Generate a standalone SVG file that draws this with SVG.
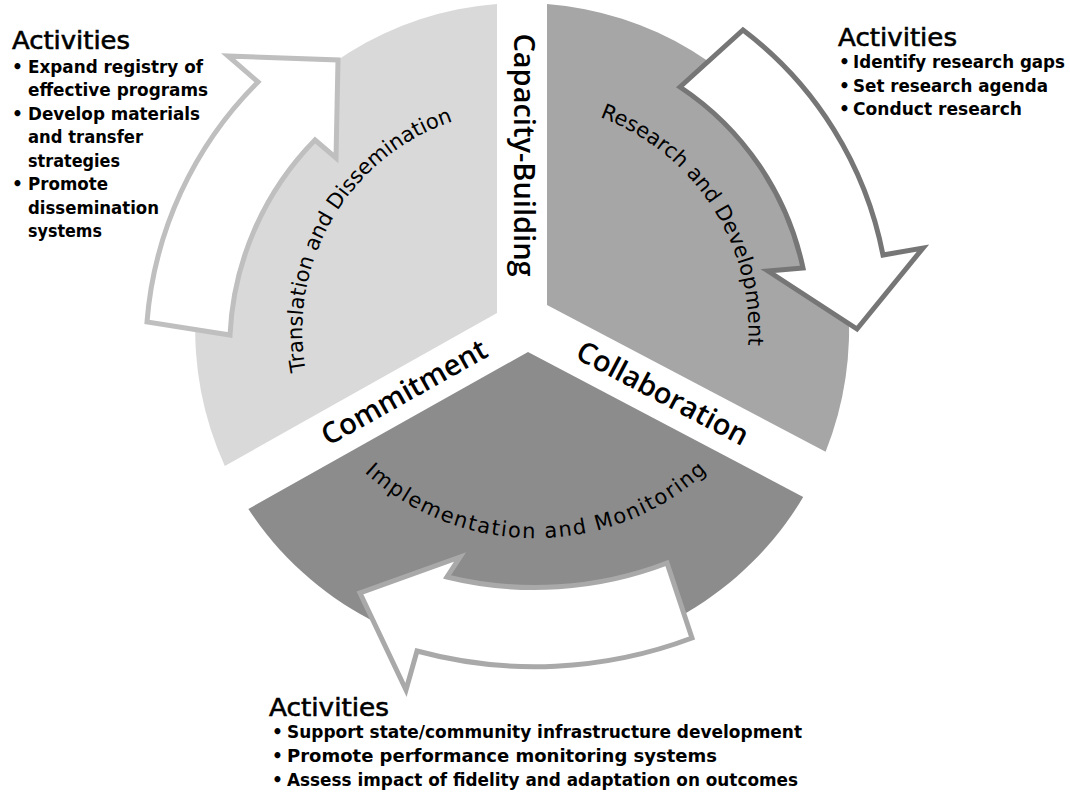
<svg xmlns="http://www.w3.org/2000/svg" width="1070" height="792" viewBox="0 0 1070 792">
  <style>
    .gap { font-family: "Open Sans", "Liberation Sans", sans-serif; font-size: 29px; font-weight: 600; fill: #000; }
    .arc { font-family: "DejaVu Sans", "Liberation Sans", sans-serif; font-size: 21px; fill: #000; }
    .head { font-family: "DejaVu Sans", "Liberation Sans", sans-serif; font-size: 25px; fill: #000; stroke: #000; stroke-width: 0.6; }
    .item { font-family: "DejaVu Sans", "Liberation Sans", sans-serif; font-size: 17px; font-weight: bold; fill: #000; }
    .arrow { fill: #fff; stroke-width: 5; stroke-linejoin: miter; }
  </style>
  <defs>
    <path id="tp-translation" d="M 408.2,519.4 A 221 221 0 0 1 632.5,138.6"/>
    <path id="tp-research" d="M 399.5,137.7 A 228 228 0 0 1 647.8,520.1"/>
    <path id="tp-implementation" d="M 281,285.1 A 254 254 0 0 0 789,283.3"/>
  </defs>
  <rect width="1070" height="792" fill="#fff"/>

  <!-- pie sectors separated by 50px white gaps -->
  <g id="node-translation">
    <path d="M 497,313 L 497,4 A 327 327 0 0 0 224.8,466 Z" fill="#d9d9d9"/>
  </g>
  <g id="node-research">
    <path d="M 547,305 L 547,4 A 327 327 0 0 1 825.6,451.7 Z" fill="#a6a6a6"/>
  </g>
  <g id="node-implementation">
    <path d="M 528,352 L 803.2,497 A 327 327 0 0 1 248.4,509 Z" fill="#8c8c8c"/>
  </g>

  <!-- clockwise block arrows around the cycle -->
  <g id="connectors">
    <path class="arrow" stroke="#bfbfbf" d="M 147,322 A 381 381 0 0 1 258,82 L 228,56 L 338,60 L 336,158 L 315,140 A 298 298 0 0 0 230,335 Z"/>
    <path class="arrow" stroke="#767676" d="M 680,87 L 743,30 A 371 371 0 0 1 883,255 L 923,248 L 857,329 L 768,271 L 803,268 A 290 290 0 0 0 680,87 Z"/>
    <path class="arrow" stroke="#a9a9a9" d="M 667,563 L 692,638 A 448 448 0 0 1 417,651 L 406,690 L 360,593 L 460,557 L 447,577 A 369 369 0 0 0 667,563 Z"/>
  </g>

  <!-- curved stage labels -->
  <text class="arc"><textPath href="#tp-translation" startOffset="50%" text-anchor="middle" textLength="316">Translation and Dissemination</textPath></text>
  <text class="arc"><textPath href="#tp-research" startOffset="50%" text-anchor="middle" textLength="292">Research and Development</textPath></text>
  <text class="arc"><textPath href="#tp-implementation" startOffset="50%" text-anchor="middle" textLength="376">Implementation and Monitoring</textPath></text>

  <!-- labels in the gaps -->
  <g id="label-capacity"><text class="gap" transform="translate(514,155) rotate(90)" text-anchor="middle">Capacity-Building</text></g>
  <g id="label-commitment"><text class="gap" transform="translate(409,401) rotate(-29.3)" text-anchor="middle">Commitment</text></g>
  <g id="label-collaboration"><text class="gap" transform="translate(658,402) rotate(27.8)" text-anchor="middle">Collaboration</text></g>

  <!-- activity lists -->
  <g id="activities-left">
    <text class="head" x="12" y="49" textLength="118" lengthAdjust="spacingAndGlyphs">Activities</text>
    <text class="item" x="12" y="73">•</text>
    <text class="item" x="28" y="73" textLength="175" lengthAdjust="spacingAndGlyphs">Expand registry of</text>
    <text class="item" x="28" y="96" textLength="180" lengthAdjust="spacingAndGlyphs">effective programs</text>
    <text class="item" x="12" y="120">•</text>
    <text class="item" x="28" y="120" textLength="172" lengthAdjust="spacingAndGlyphs">Develop materials</text>
    <text class="item" x="28" y="143" textLength="115" lengthAdjust="spacingAndGlyphs">and transfer</text>
    <text class="item" x="28" y="167" textLength="92" lengthAdjust="spacingAndGlyphs">strategies</text>
    <text class="item" x="12" y="190">•</text>
    <text class="item" x="28" y="190" textLength="80" lengthAdjust="spacingAndGlyphs">Promote</text>
    <text class="item" x="28" y="214" textLength="131" lengthAdjust="spacingAndGlyphs">dissemination</text>
    <text class="item" x="28" y="237" textLength="74" lengthAdjust="spacingAndGlyphs">systems</text>
  </g>
  <g id="activities-right">
    <text class="head" x="838" y="46" textLength="119" lengthAdjust="spacingAndGlyphs">Activities</text>
    <text class="item" x="839" y="68">•</text>
    <text class="item" x="853" y="68" textLength="212" lengthAdjust="spacingAndGlyphs">Identify research gaps</text>
    <text class="item" x="839" y="92">•</text>
    <text class="item" x="853" y="92" textLength="195" lengthAdjust="spacingAndGlyphs">Set research agenda</text>
    <text class="item" x="839" y="115">•</text>
    <text class="item" x="853" y="115" textLength="169" lengthAdjust="spacingAndGlyphs">Conduct research</text>
  </g>
  <g id="activities-bottom">
    <text class="head" x="269" y="716" textLength="120" lengthAdjust="spacingAndGlyphs">Activities</text>
    <text class="item" x="272" y="738">•</text>
    <text class="item" x="287" y="738" textLength="515" lengthAdjust="spacingAndGlyphs">Support state/community infrastructure development</text>
    <text class="item" x="272" y="762">•</text>
    <text class="item" x="287" y="762" textLength="430" lengthAdjust="spacingAndGlyphs">Promote performance monitoring systems</text>
    <text class="item" x="272" y="786">•</text>
    <text class="item" x="287" y="786" textLength="511" lengthAdjust="spacingAndGlyphs">Assess impact of fidelity and adaptation on outcomes</text>
  </g>
</svg>
